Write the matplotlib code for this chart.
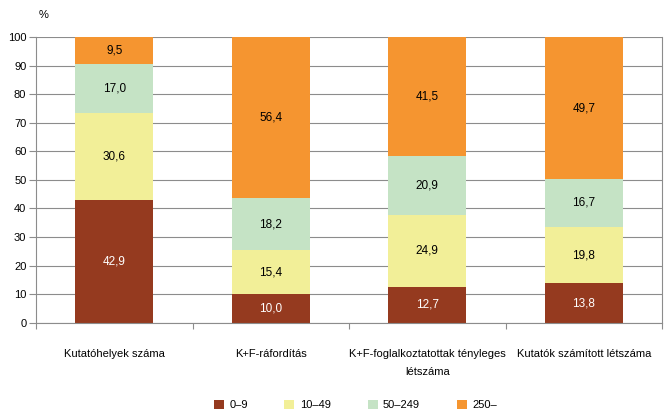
import numpy as np
import matplotlib.pyplot as plt
from matplotlib.patches import Patch

plt.rcParams['font.family'] = ['Liberation Sans', 'DejaVu Sans']

categories = ['Kutatóhelyek száma', 'K+F-ráfordítás',
              'K+F-foglalkoztatottak tényleges\nlétszáma', 'Kutatók számított létszáma']
series_names = ['0–9', '10–49', '50–249', '250–']
s_0_9 = [42.9, 10.0, 12.7, 13.8]
s_10_49 = [30.6, 15.4, 24.9, 19.8]
s_50_249 = [17.0, 18.2, 20.9, 16.7]
s_250 = [9.5, 56.4, 41.5, 49.7]

colors = ['#953a1f', '#f2ef98', '#c5e3c5', '#f59530']
text_colors = ['white', 'black', 'black', 'black']

fig = plt.figure(figsize=(6.68, 4.16), dpi=100)
ax = fig.add_axes([0.054, 0.224, 0.937, 0.687])

x = np.arange(len(categories))
bottom = np.zeros(len(categories))
for vals, col, tc in zip([s_0_9, s_10_49, s_50_249, s_250], colors, text_colors):
    vals = np.array(vals)
    ax.bar(x, vals, width=0.5, bottom=bottom, color=col, zorder=2)
    for xi, b, v in zip(x, bottom, vals):
        ax.text(xi, b + v / 2, f'{v:.1f}'.replace('.', ','), ha='center', va='center',
                fontsize=8.5, color=tc, zorder=3)
    bottom += vals

ax.set_xlim(-0.5, len(categories) - 0.5)
ax.set_ylim(0, 100)
ax.set_yticks(np.arange(0, 101, 10))
ax.yaxis.grid(True, color='#8c8c8c', linewidth=0.8, zorder=0)
ax.set_axisbelow(True)

# tick marks at category boundaries, labels at centers
ax.set_xticks(np.arange(-0.5, len(categories), 1))
ax.set_xticklabels([])
ax.set_xticks(x, minor=True)
ax.set_xticklabels(categories, minor=True, fontsize=8, linespacing=2.0)
ax.tick_params(axis='x', which='minor', length=0, pad=19)
ax.tick_params(axis='x', which='major', length=4, color='#8c8c8c')
ax.tick_params(axis='y', length=5, color='#8c8c8c', labelsize=8, pad=2)

for side in ['left', 'bottom', 'right']:
    ax.spines[side].set_color('#8c8c8c')
ax.spines['top'].set_visible(False)

fig.text(0.065, 0.975, '%', fontsize=8, ha='center', va='top')

handles = [Patch(facecolor=c, edgecolor='none') for c in colors]
fig.legend(handles, series_names, loc='lower center', bbox_to_anchor=(0.532, -0.01),
           ncol=4, frameon=False, fontsize=8, handlelength=0.9, handleheight=0.9,
           columnspacing=3.3, handletextpad=0.5)

fig.savefig('out.png', dpi=100)
